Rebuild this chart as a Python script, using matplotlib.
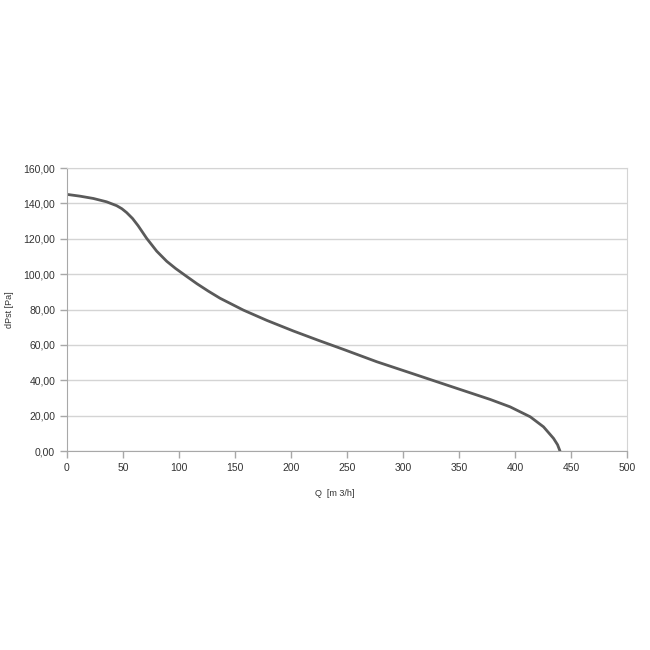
import matplotlib
matplotlib.use("Agg")
from matplotlib import pyplot as plt
from matplotlib.ticker import FuncFormatter

plt.rcParams['font.family'] = ['Liberation Sans', 'DejaVu Sans']

# values
q = [0, 11.6, 23.5, 35.4, 44.4, 49, 53.3, 58.5, 63.5, 71.2, 80.1, 89, 97, 106,
     116, 126.2, 136.6, 157.4, 178.3, 202, 224.4, 246.7, 276.5, 306, 342,
     377.7, 395.5, 413.4, 425.3, 434.2, 437.8, 440]
dpst = [145.1, 144.1, 142.8, 140.9, 138.7, 137.0, 134.8, 131.5, 127.4, 120.2,
        113.0, 107.3, 103.2, 99.1, 94.6, 90.4, 86.4, 79.7, 73.9, 67.9, 62.6,
        57.5, 50.5, 44.3, 36.7, 29.2, 25, 19.4, 13.7, 7.2, 3.6, 0]

x_ticks = [0, 50, 100, 150, 200, 250, 300, 350, 400, 450, 500]
y_ticks = [0, 20, 40, 60, 80, 100, 120, 140, 160]

fig = plt.figure(figsize=(6.5, 6.5), dpi=100)
ax = fig.add_axes([0.103, 0.306, 0.862, 0.4355])

ax.plot(q, dpst, color='#5a5a5a', lw=2.0, solid_capstyle='round', solid_joinstyle='round')

ax.set_xlim(0, 500)
ax.set_ylim(0, 160)
ax.set_xticks(x_ticks)
ax.set_yticks(y_ticks)
ax.yaxis.set_major_formatter(FuncFormatter(lambda v, p: ('%.2f' % v).replace('.', ',')))

ax.grid(axis='y', color='#d4d4d4', lw=1.0)
ax.set_axisbelow(True)
for s in ['top', 'right']:
    ax.spines[s].set_color('#d4d4d4')
for s in ['left', 'bottom']:
    ax.spines[s].set_color('#a8a8a8')
ax.tick_params(colors='#a8a8a8', labelcolor='#333333', labelsize=7.5, length=5, width=1)

ax.set_xlabel('Q  [m 3/h]', fontsize=6.5, color='#333333')
ax.xaxis.set_label_coords(0.478, -0.135)
ax.set_ylabel('dPst [Pa]', fontsize=6.5, color='#333333')
ax.yaxis.set_label_coords(-0.095, 0.5)

fig.savefig('out.png', dpi=100)
